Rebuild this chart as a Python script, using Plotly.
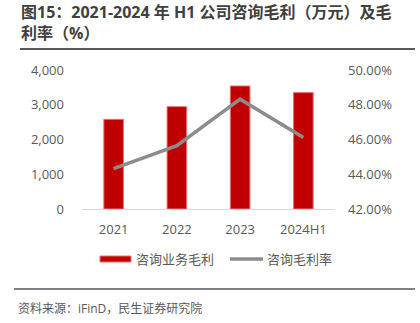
import plotly.graph_objects as go

categories = ["2021", "2022", "2023", "2024H1"]
gross_profit = [2580, 2945, 3540, 3350]
gross_margin = [44.32, 45.64, 48.32, 46.12]
left_ticks = [0, 1000, 2000, 3000, 4000]
right_ticks = [42, 44, 46, 48, 50]

FONT = "Open Sans, Noto Sans CJK SC"
L, R, T, B = 82, 335, 70, 209
W, H = 420, 323
def px(x):
    return (x - L) / (R - L)
def py(y):
    return (B - y) / (B - T)

fig = go.Figure()
fig.add_trace(go.Bar(x=categories, y=gross_profit, name="咨询业务毛利",
                     marker=dict(color="#C00000", line=dict(color="#E57373", width=1)),
                     width=0.31, yaxis="y", showlegend=False))
fig.add_trace(go.Scatter(x=categories, y=gross_margin, name="咨询毛利率", mode="lines",
                         line=dict(color="#8C8C8C", width=3.5), yaxis="y2", showlegend=False))

shapes = [
    dict(type="line", xref="paper", yref="paper", x0=px(20), x1=px(415), y0=py(49), y1=py(49),
         line=dict(color="#595959", width=2)),
    dict(type="line", xref="paper", yref="paper", x0=px(14), x1=px(415), y0=py(289), y1=py(289),
         line=dict(color="#595959", width=1.5)),
    dict(type="rect", xref="paper", yref="paper", x0=px(100), x1=px(131), y0=py(262), y1=py(256),
         fillcolor="#C00000", line=dict(color="#E57373", width=1)),
    dict(type="line", xref="paper", yref="paper", x0=px(230), x1=px(263), y0=py(259), y1=py(259),
         line=dict(color="#8C8C8C", width=3.5)),
]
annotations = [
    dict(text="<b>图15：2021-2024 年 H1 公司咨询毛利（万元）及毛</b>", x=px(19), y=py(12),
         xref="paper", yref="paper", xanchor="left", yanchor="middle", showarrow=False,
         font=dict(family=FONT, size=16, color="#404040")),
    dict(text="<b>利率（%）</b>", x=px(19), y=py(33), xref="paper", yref="paper",
         xanchor="left", yanchor="middle", showarrow=False,
         font=dict(family=FONT, size=16, color="#404040")),
    dict(text="咨询业务毛利", x=px(134), y=py(259), xref="paper", yref="paper",
         xanchor="left", yanchor="middle", showarrow=False,
         font=dict(family=FONT, size=13, color="#595959")),
    dict(text="咨询毛利率", x=px(265), y=py(259), xref="paper", yref="paper",
         xanchor="left", yanchor="middle", showarrow=False,
         font=dict(family=FONT, size=13, color="#595959")),
    dict(text="资料来源：iFinD，民生证券研究院", x=px(16), y=py(308), xref="paper", yref="paper",
         xanchor="left", yanchor="middle", showarrow=False,
         font=dict(family=FONT, size=12, color="#595959")),
]

fig.update_layout(
    width=W, height=H,
    margin=dict(l=L, r=W - R, t=T, b=H - B, pad=0),
    paper_bgcolor="white", plot_bgcolor="white",
    font=dict(family=FONT, size=13, color="#595959"),
    shapes=shapes, annotations=annotations,
    xaxis=dict(showline=True, linecolor="#D9D9D9", linewidth=1, showgrid=False,
               ticks="", ticklabelstandoff=8, tickfont=dict(size=13, color="#595959")),
    yaxis=dict(range=[0, 4000], tickvals=left_ticks, tickformat=",d", showgrid=False,
               zeroline=False, showline=False, ticks="", ticklabelstandoff=17,
               tickfont=dict(size=13, color="#595959")),
    yaxis2=dict(range=[42, 50], tickvals=right_ticks, ticktext=[f"{v:.2f}%" for v in right_ticks],
                overlaying="y", side="right", showgrid=False, zeroline=False, showline=False,
                ticks="", ticklabelstandoff=12, tickfont=dict(size=13, color="#595959")),
    showlegend=False,
)

fig.write_html("out.html")
